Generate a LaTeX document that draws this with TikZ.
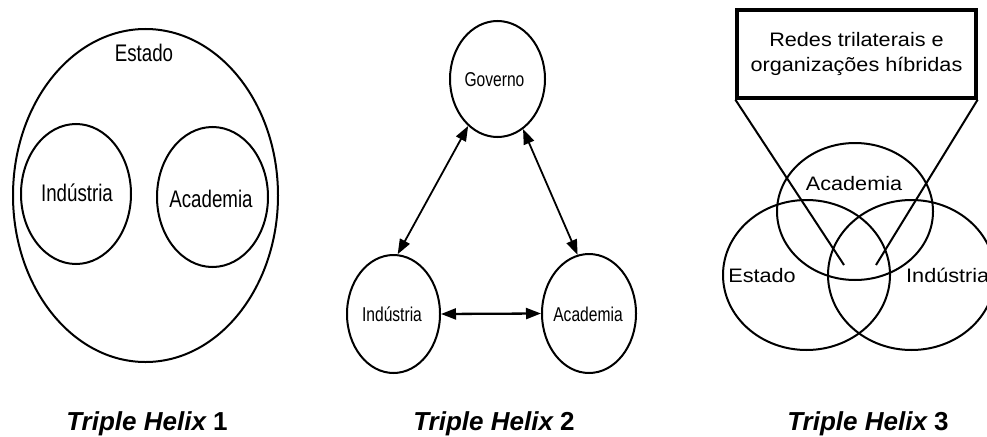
\documentclass[tikz,border=0pt]{standalone}
\usepackage{fontspec}
\setmainfont{Liberation Sans}
\newfontfamily\narrowsans[FakeStretch=0.78]{Liberation Sans}
\newfontfamily\widesans[FakeStretch=1.11]{Liberation Sans}
\usetikzlibrary{shapes.geometric,arrows.meta}

\begin{document}
\begin{tikzpicture}[x=1pt,y=-1pt,
  ring/.style={draw, ellipse, line width=2pt, inner sep=0pt},
  lblA/.style={font=\narrowsans\fontsize{24}{28}\selectfont, anchor=base, inner sep=0pt},
  lblB/.style={font=\narrowsans\fontsize{20}{24}\selectfont, anchor=base, inner sep=0pt},
  lblC/.style={font=\widesans\fontsize{19.5}{24}\selectfont, anchor=base, inner sep=0pt},
  link/.style={line width=1.8pt, {Triangle[length=15pt,width=11pt]}-{Triangle[length=15pt,width=11pt]}},
  caption/.style={font=\fontsize{26}{30}\selectfont\bfseries, anchor=base, inner sep=0pt},
  callout/.style={draw, line width=3.3pt, inner sep=0pt, minimum width=239, minimum height=88,
    align=center, font=\widesans\fontsize{19.5}{25}\selectfont},
  pointer/.style={line width=2pt}
]
\useasboundingbox (0,0) rectangle (987,436);

% ---- Model 1: the state contains industry and academia
\node[ring, minimum width=265, minimum height=333] (estado1) at (145.5,195.5) {};
\node[ring, minimum width=110, minimum height=140] (ind1) at (76,194) {};
\node[ring, minimum width=111, minimum height=140] (aca1) at (212.5,197) {};
\node[lblA] (estado1t) at (144,61) {Estado};
\node[lblA] (ind1t) at (77,201) {Indústria};
\node[lblA] (aca1t) at (211,207) {Academia};
\node[caption] (cap1) at (147,430) {\itshape Triple Helix\upshape\ 1};

% ---- Model 2: three separate spheres linked by arrows
\node[ring, minimum width=95, minimum height=116] (gov) at (497.5,79) {};
\node[ring, minimum width=93, minimum height=118] (ind2) at (393.5,314) {};
\node[ring, minimum width=94, minimum height=119] (aca2) at (589,313.5) {};
\node[lblB] (govt) at (494.5,86) {Governo};
\node[lblB] (ind2t) at (392,321) {Indústria};
\node[lblB] (aca2t) at (588,321) {Academia};
\draw[link] (gov.238) -- (ind2.86);
\draw[link] (gov.297) -- (aca2.101);
\draw[link, line width=2.3pt] (ind2.east) -- (aca2.west);
\node[caption] (cap2) at (494,430) {\itshape Triple Helix\upshape\ 2};

% ---- Model 3: overlapping spheres with hybrid organisations
\node[ring, minimum width=156, minimum height=137] (aca3) at (855,211.5) {};
\node[ring, minimum width=167, minimum height=150] (est3) at (806.5,275) {};
\node[ring, minimum width=167, minimum height=150] (ind3) at (911.5,275) {};
\node[lblC] (aca3t) at (854,190) {Academia};
\node[lblC] (est3t) at (762,282) {Estado};
\node[lblC, anchor=base west] (ind3t) at (906,282) {Indústria};
\node[callout] (box) at (856.5,54) {Redes trilaterais e\\organizações híbridas};
\coordinate (hubL) at (844,265);
\coordinate (hubR) at (876,265);
\draw[pointer] (box.south west) -- (hubL);
\draw[pointer] (box.south east) -- (hubR);
\node[caption] (cap3) at (868,430) {\itshape Triple Helix\upshape\ 3};
\end{tikzpicture}
\end{document}
